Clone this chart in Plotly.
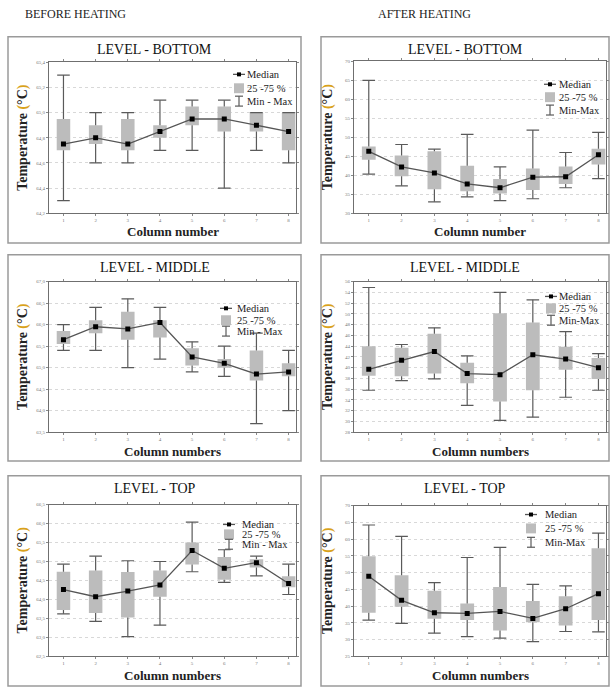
import plotly.graph_objects as go

W, H = 612, 693
cols = [1, 2, 3, 4, 5, 6, 7, 8]

# BEFORE HEATING - BOTTOM
bb_min = [64.30, 64.60, 64.60, 64.70, 64.70, 64.40, 64.70, 64.60]
bb_q1 = [64.70, 64.75, 64.70, 64.80, 64.90, 64.85, 64.85, 64.70]
bb_med = [64.75, 64.80, 64.75, 64.85, 64.95, 64.95, 64.90, 64.85]
bb_q3 = [64.95, 64.90, 64.95, 64.90, 65.05, 65.05, 65.00, 65.00]
bb_max = [65.30, 65.00, 65.00, 65.10, 65.10, 65.10, 65.00, 65.00]

# AFTER HEATING - BOTTOM
ab_min = [40.3, 37.2, 33.0, 34.3, 33.3, 33.8, 36.7, 39.1]
ab_q1 = [44.1, 39.7, 36.3, 35.8, 35.2, 36.1, 37.7, 42.8]
ab_med = [46.3, 42.2, 40.6, 37.7, 36.7, 39.5, 39.6, 45.4]
ab_q3 = [47.6, 45.2, 46.3, 42.5, 39.0, 41.8, 42.3, 47.0]
ab_max = [65.0, 48.1, 46.9, 50.8, 42.2, 51.9, 46.0, 51.3]

# BEFORE HEATING - MIDDLE
bm_min = [65.40, 65.40, 65.00, 65.20, 64.90, 64.80, 63.70, 64.00]
bm_q1 = [65.55, 65.80, 65.65, 65.70, 65.05, 65.00, 64.70, 64.80]
bm_med = [65.65, 65.95, 65.90, 66.05, 65.25, 65.10, 64.85, 64.90]
bm_q3 = [65.85, 66.10, 66.30, 66.10, 65.45, 65.20, 65.40, 65.10]
bm_max = [66.00, 66.40, 66.60, 66.40, 65.60, 65.50, 65.80, 65.40]

# AFTER HEATING - MIDDLE
am_min = [35.8, 37.6, 37.9, 33.0, 30.2, 30.8, 34.5, 35.8]
am_q1 = [38.5, 38.4, 38.9, 37.1, 33.7, 35.8, 39.6, 37.9]
am_med = [39.7, 41.4, 43.0, 38.9, 38.7, 42.4, 41.6, 40.0]
am_q3 = [44.0, 43.7, 46.3, 40.9, 50.1, 48.4, 43.9, 41.8]
am_max = [54.9, 44.3, 47.4, 42.2, 54.0, 52.6, 46.7, 42.6]

# BEFORE HEATING - TOP
bt_min = [63.62, 63.42, 63.02, 63.32, 64.73, 64.45, 64.62, 64.13]
bt_q1 = [63.72, 63.64, 63.52, 64.07, 64.92, 64.52, 64.84, 64.32]
bt_med = [64.26, 64.07, 64.22, 64.38, 65.29, 64.82, 64.97, 64.42]
bt_q3 = [64.73, 64.76, 64.72, 64.76, 65.50, 65.12, 65.06, 64.61]
bt_max = [64.93, 65.14, 65.02, 65.00, 66.04, 65.31, 65.14, 64.93]

# AFTER HEATING - TOP
at_min = [35.8, 34.8, 31.9, 30.9, 30.4, 29.4, 32.4, 32.3]
at_q1 = [38.0, 39.8, 36.2, 35.8, 32.7, 35.2, 34.2, 35.8]
at_med = [48.9, 41.7, 38.0, 37.8, 38.4, 36.3, 39.2, 43.7]
at_q3 = [54.9, 49.2, 44.6, 40.8, 45.7, 41.5, 42.9, 57.3]
at_max = [64.2, 60.8, 47.0, 54.5, 57.5, 46.5, 46.0, 61.8]

panels = [
    dict(title="LEVEL - BOTTOM", xt="Column number", d=(bb_min, bb_q1, bb_med, bb_q3, bb_max),
         yr=[64.2, 65.4], dt=0.2, fmt=".1f", box=(49, 296, 61, 213),
         leg=(239, [73, 87, 100], 245, ["Median", "25 -75 %", "Min - Max"])),
    dict(title="LEVEL - BOTTOM", xt="Column number", d=(ab_min, ab_q1, ab_med, ab_q3, ab_max),
         yr=[30, 70], dt=5, fmt="d", box=(354, 606, 60, 213),
         leg=(550, [83, 96, 109], 557, ["Median", "25 -75 %", "Min-Max"])),
    dict(title="LEVEL - MIDDLE", xt="Column numbers", d=(bm_min, bm_q1, bm_med, bm_q3, bm_max),
         yr=[63.5, 67.0], dt=0.5, fmt=".1f", box=(49, 296, 282, 434),
         leg=(226, [309, 321, 332], 235, ["Median", "25 -75 %", "Min - Max"])),
    dict(title="LEVEL - MIDDLE", xt="Column numbers", d=(am_min, am_q1, am_med, am_q3, am_max),
         yr=[28, 56], dt=2, fmt="d", box=(354, 606, 282, 434),
         leg=(551, [297, 309, 321], 557, ["Median", "25 -75 %", "Min-Max"])),
    dict(title="LEVEL - TOP", xt="Column numbers", d=(bt_min, bt_q1, bt_med, bt_q3, bt_max),
         yr=[62.5, 66.5], dt=0.5, fmt=".1f", box=(49, 296, 507, 660),
         leg=(229, [527, 537, 547], 240, ["Median", "25 -75 %", "Min - Max"])),
    dict(title="LEVEL - TOP", xt="Column numbers", d=(at_min, at_q1, at_med, at_q3, at_max),
         yr=[25, 70], dt=5, fmt="d", box=(354, 606, 508, 660),
         leg=(531, [517, 531, 545], 543, ["Median", "25 -75 %", "Min-Max"])),
]

frames = [(8, 301, 35, 243), (321, 609, 35, 243), (8, 301, 255, 463), (321, 609, 255, 463),
          (8, 301, 478, 690), (321, 609, 478, 690)]


def px(x):
    return x / W


def py(y):
    return 1 - y / H


BOX_C = "#bcbcbc"
WH_C = "#5a5a5a"
MED_C = "#555555"
SERIF = "Liberation Serif, Times New Roman, serif"

fig = go.Figure()
shapes = []
annots = []

for i, p in enumerate(panels):
    n = "" if i == 0 else str(i + 1)
    xa, ya = "x" + n, "y" + n
    mn, q1, md, q3, mx = p["d"]
    # box (25-75 %)
    fig.add_trace(go.Bar(x=cols, y=[b - a for a, b in zip(q1, q3)], base=q1, width=0.42,
                         marker=dict(color=BOX_C, line=dict(width=0)), xaxis=xa, yaxis=ya,
                         showlegend=False, hoverinfo="skip"))
    # whiskers (min - max)
    wx, wy = [], []
    for c, a, b, lo, hi in zip(cols, q1, q3, mn, mx):
        wx += [c, c, None, c, c, None]
        wy += [b, hi, None, lo, a, None]
    fig.add_trace(go.Scatter(x=wx, y=wy, mode="lines", line=dict(color=WH_C, width=1.2),
                             xaxis=xa, yaxis=ya, showlegend=False, hoverinfo="skip"))
    fig.add_trace(go.Scatter(x=cols + cols, y=mn + mx, mode="markers",
                             marker=dict(symbol="line-ew", size=9, line=dict(color=WH_C, width=1.2)),
                             xaxis=xa, yaxis=ya, showlegend=False, hoverinfo="skip"))
    # median
    fig.add_trace(go.Scatter(x=cols, y=md, mode="lines+markers",
                             line=dict(color=MED_C, width=1.3),
                             marker=dict(symbol="square", size=5, color="black"),
                             xaxis=xa, yaxis=ya, showlegend=False, hoverinfo="skip"))

    x0, x1, y0, y1 = p["box"]
    axcommon = dict(showline=True, linecolor="#6f6f6f", linewidth=1, mirror="ticks",
                    ticks="outside", ticklen=2, tickcolor="#888",
                    tickfont=dict(size=5, color="#777", family=SERIF), zeroline=False)
    fig.layout["xaxis" + n] = dict(domain=[px(x0), px(x1)], anchor=ya, range=[0.55, 8.23],
                                   tickvals=cols, showgrid=False, **axcommon)
    fig.layout["yaxis" + n] = dict(domain=[py(y1), py(y0)], anchor=xa, range=p["yr"],
                                   dtick=p["dt"], tick0=p["yr"][0], tickformat=p["fmt"],
                                   showgrid=True, gridcolor="#d8d8d8", griddash="dot", gridwidth=1,
                                   **axcommon)

    fx0, fx1, fy0, fy1 = frames[i]
    shapes.append(dict(type="rect", xref="paper", yref="paper", x0=px(fx0), x1=px(fx1),
                       y0=py(fy1), y1=py(fy0), line=dict(color="#9a9a9a", width=1.5), layer="below"))
    annots.append(dict(text=p["title"], x=px((fx0 + fx1) / 2), y=py(fy0 + 13), xref="paper",
                       yref="paper", showarrow=False, font=dict(family=SERIF, size=14, color="#111"),
                       xanchor="center", yanchor="middle"))
    annots.append(dict(text="<b>" + p["xt"] + "</b>", x=px((x0 + x1) / 2), y=py(y1 + 19),
                       xref="paper", yref="paper", showarrow=False,
                       font=dict(family=SERIF, size=13, color="#222"), xanchor="center", yanchor="middle"))
    annots.append(dict(text="<b>Temperature <span style='color:#d9a21b'>(</span>°C"
                            "<span style='color:#d9a21b'>)</span></b>",
                       x=px(x0 - 26), y=py((y0 + y1) / 2), xref="paper", yref="paper", showarrow=False,
                       textangle=-90, font=dict(family=SERIF, size=14, color="#222"),
                       xanchor="center", yanchor="middle"))

    # legend (decorative)
    sx, rows, tx, labels = p["leg"]
    r0, r1, r2 = rows
    shapes.append(dict(type="line", xref="paper", yref="paper", x0=px(sx - 6), x1=px(sx + 6),
                       y0=py(r0), y1=py(r0), line=dict(color=MED_C, width=1.3)))
    shapes.append(dict(type="rect", xref="paper", yref="paper", x0=px(sx - 2), x1=px(sx + 2),
                       y0=py(r0 + 2), y1=py(r0 - 2), fillcolor="black", line=dict(width=0)))
    shapes.append(dict(type="rect", xref="paper", yref="paper", x0=px(sx - 5), x1=px(sx + 5),
                       y0=py(r1 + 5), y1=py(r1 - 5), fillcolor=BOX_C, line=dict(width=0)))
    shapes.append(dict(type="line", xref="paper", yref="paper", x0=px(sx), x1=px(sx),
                       y0=py(r2 + 5), y1=py(r2 - 5), line=dict(color=WH_C, width=1.2)))
    for yy in (r2 - 5, r2 + 5):
        shapes.append(dict(type="line", xref="paper", yref="paper", x0=px(sx - 4), x1=px(sx + 4),
                           y0=py(yy), y1=py(yy), line=dict(color=WH_C, width=1.2)))
    for lab, rr in zip(labels, rows):
        annots.append(dict(text=lab, x=px(tx), y=py(rr), xref="paper", yref="paper", showarrow=False,
                           font=dict(family=SERIF, size=10.5, color="#222"), xanchor="left",
                           yanchor="middle"))

annots.append(dict(text="BEFORE HEATING", x=px(75), y=py(12), xref="paper", yref="paper",
                   showarrow=False, xanchor="center", yanchor="middle",
                   font=dict(family=SERIF, size=12, color="#222")))
annots.append(dict(text="AFTER HEATING", x=px(424), y=py(12), xref="paper", yref="paper",
                   showarrow=False, xanchor="center", yanchor="middle",
                   font=dict(family=SERIF, size=12, color="#222")))

fig.update_layout(width=W, height=H, margin=dict(l=0, r=0, t=0, b=0),
                  paper_bgcolor="white", plot_bgcolor="white", barmode="overlay",
                  separators=", ", shapes=shapes, annotations=annots, showlegend=False)

fig.write_html("out.html")
